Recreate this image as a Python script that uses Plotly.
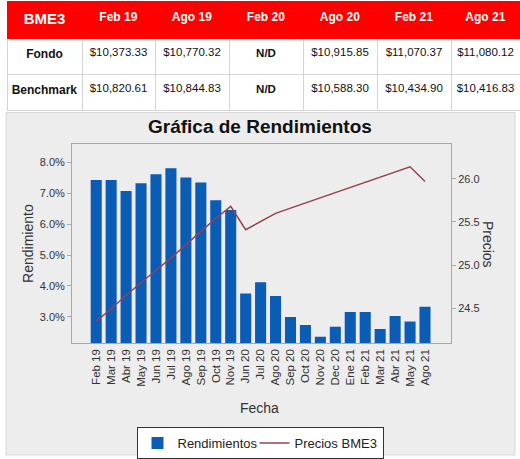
import plotly.graph_objects as go

# ---------------- data ----------------
table_header = ["BME3", "Feb 19", "Ago 19", "Feb 20", "Ago 20", "Feb 21", "Ago 21"]
row_labels = ["Fondo", "Benchmark"]
fondo_vals = ["$10,373.33", "$10,770.32", "N/D", "$10,915.85", "$11,070.37", "$11,080.12"]
bench_vals = ["$10,820.61", "$10,844.83", "N/D", "$10,588.30", "$10,434.90", "$10,416.83"]

categories = ["Feb 19", "Mar 19", "Abr 19", "May 19", "Jun 19", "Jul 19", "Ago 19",
              "Sep 19", "Oct 19", "Nov 19", "Jun 20", "Jul 20", "Ago 20", "Sep 20",
              "Oct 20", "Nov 20", "Dec 20", "Ene 21", "Feb 21", "Mar 21", "Abr 21",
              "May 21", "Ago 21"]
rendimientos = [7.43, 7.43, 7.07, 7.32, 7.61, 7.81, 7.51, 7.35, 6.77, 6.46,
                3.76, 4.12, 3.68, 3.00, 2.74, 2.36, 2.68, 3.16, 3.16, 2.61,
                3.03, 2.85, 3.33]
precios = [24.35, 24.49, 24.65, 24.80, 24.94, 25.08, 25.24, 25.39, 25.54, 25.68,
           25.41, 25.51, 25.60, 25.66, 25.72, 25.78, 25.84, 25.90, 25.96, 26.02,
           26.08, 26.14, 25.97]
left_ticks = [3, 4, 5, 6, 7, 8]
right_ticks = [24.5, 25.0, 25.5, 26.0]

W, H = 520, 459
FONT = "Liberation Sans, Arial, sans-serif"


def bold(s):
    return "<b>" + s + "</b>"


def fmt_cell(s):
    return bold(s) if s == "N/D" else s


header_vals = [bold(h) for h in table_header]
cell_cols = [[bold(r) for r in row_labels]] + [
    [fmt_cell(f), fmt_cell(b)] for f, b in zip(fondo_vals, bench_vals)]

fig = go.Figure()

fig.add_trace(go.Table(
    domain=dict(x=[7 / W, 1.0], y=[(H - 112) / H, (H - 2) / H]),
    columnwidth=[75, 73, 74, 74, 74, 74, 69],
    header=dict(values=header_vals, fill_color="#ff0000",
                line=dict(color="#ff0000", width=1),
                font=dict(color="white", size=[15, 12, 12, 12, 12, 12, 12], family=FONT),
                align="center", height=37),
    cells=dict(values=cell_cols, fill_color="white",
               line=dict(color="#d4d4d4", width=1),
               font=dict(color="#111111", size=[12, 11.5, 11.5, 11.5, 11.5, 11.5, 11.5], family=FONT),
               align="center", height=36),
))

fig.add_trace(go.Bar(
    x=categories, y=rendimientos, name="Rendimientos",
    marker=dict(color="#0b5cb5", line=dict(width=0)),
    yaxis="y", legendwidth=72,
))
fig.add_trace(go.Scatter(
    x=categories, y=precios, name="Precios BME3", mode="lines",
    line=dict(color="#94424f", width=1.5),
    yaxis="y2",
))

fig.update_layout(
    width=W, height=H, autosize=False,
    margin=dict(l=0, r=0, t=0, b=0),
    paper_bgcolor="white", plot_bgcolor="white",
    font=dict(family=FONT, color="#333333"),
    bargap=0.26,
    showlegend=True,
    xaxis=dict(domain=[72 / W, 451 / W], type="category",
               range=[-1.62, 23.74], tickangle=-90,
               tickfont=dict(size=11.5, color="#333333"),
               showline=True, mirror=True, linecolor="#a8a8a8", linewidth=1,
               ticks="", showgrid=False, zeroline=False),
    yaxis=dict(domain=[(H - 345) / H, (H - 145) / H], range=[2.14, 8.58],
               tickmode="array", tickvals=left_ticks,
               ticktext=[f"{v:.1f}%" for v in left_ticks],
               tickfont=dict(size=11, color="#333333"),
               ticks="outside", ticklen=4, tickcolor="#a8a8a8",
               showline=True, mirror=True, linecolor="#a8a8a8", linewidth=1,
               showgrid=False, zeroline=False),
    yaxis2=dict(overlaying="y", side="right", anchor="x", range=[24.09, 26.40],
                tickmode="array", tickvals=right_ticks,
                ticktext=[f"{v:.1f}" for v in right_ticks],
                tickfont=dict(size=11, color="#333333"),
                ticks="outside", ticklen=4, tickcolor="#a8a8a8",
                showgrid=False, zeroline=False, showline=False),
    legend=dict(orientation="h", x=0.5, xanchor="center",
                y=(H - 429) / H, yanchor="top",
                bgcolor="white", bordercolor="#333333", borderwidth=1,
                font=dict(size=13, color="#222222"), itemwidth=30,
                traceorder="normal"),
    shapes=[dict(type="rect", xref="paper", yref="paper",
                 x0=6 / W, x1=515 / W, y0=(H - 457) / H, y1=(H - 113) / H,
                 fillcolor="#ededed", line=dict(color="#d8d8d8", width=1),
                 layer="below")],
    annotations=[
        dict(text="<b>Gráfica de Rendimientos</b>", x=259.5 / W, y=(H - 127) / H,
             xref="paper", yref="paper", showarrow=False, xanchor="center",
             yanchor="middle", font=dict(size=19, color="#111111")),
        dict(text="Rendimiento", x=28 / W, y=(H - 245) / H, xref="paper", yref="paper",
             showarrow=False, textangle=-90, xanchor="center", yanchor="middle",
             font=dict(size=14, color="#333333")),
        dict(text="Precios", x=488 / W, y=(H - 245) / H, xref="paper", yref="paper",
             showarrow=False, textangle=90, xanchor="center", yanchor="middle",
             font=dict(size=14, color="#333333")),
        dict(text="Fecha", x=259 / W, y=(H - 410) / H, xref="paper", yref="paper",
             showarrow=False, xanchor="center", yanchor="middle",
             font=dict(size=14, color="#333333")),
    ],
)

fig.write_html("out.html", config={"displayModeBar": False},
               post_script="document.body.style.margin='0px';document.body.style.overflow='hidden';")
